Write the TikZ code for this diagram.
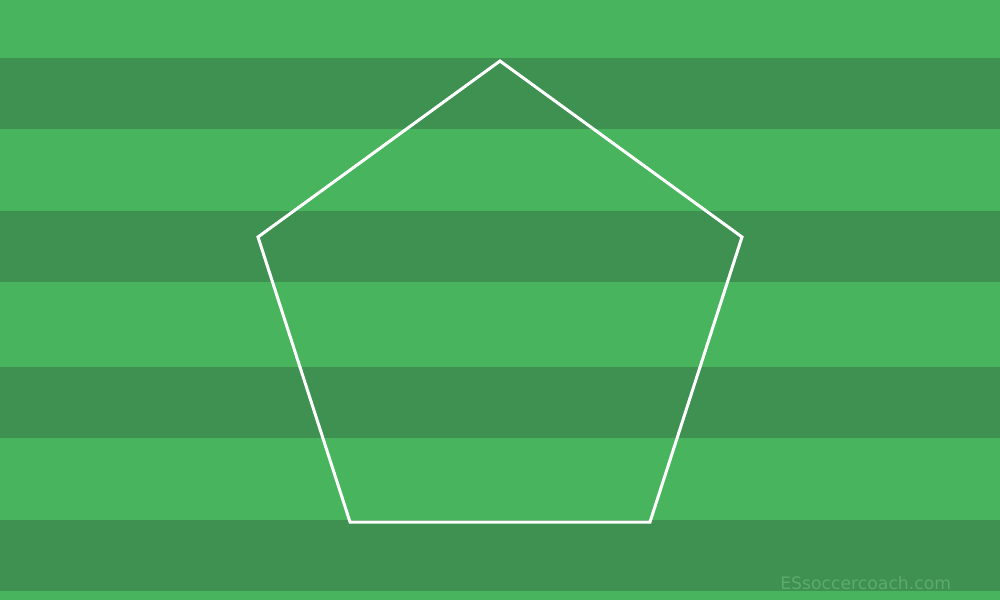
\documentclass[tikz,border=0pt]{standalone}
\usepackage{fontspec}
\newfontfamily\markfont{DejaVu Sans}
\usepackage{tikz}

\definecolor{grasslight}{HTML}{48B55E}
\definecolor{grassdark}{HTML}{3E9151}
\definecolor{marktext}{HTML}{5CAB6C}

\begin{document}
\begin{tikzpicture}[
x=0.2mm,
y=-0.2mm,
stripe/.style={
fill=grassdark
},
fieldline/.style={
draw=white,
line width=0.6mm,
line join=miter
},
watermark/.style={
anchor=base west,
inner sep=0pt,
text=marktext,
font=\markfont\fontsize{9.8}{12}\selectfont
}
]


% Pitch

\fill[grasslight] (0,0) rectangle (1000,600);
\useasboundingbox (0,0) rectangle (1000,600);

\foreach \top/\bottom in {58/129, 211/282, 367/438, 520/591}
{
\fill[stripe] (0,\top) rectangle (1000,\bottom);
}


% Pentagon

\coordinate (apex) at (500,61);
\coordinate (right) at (742,237);
\coordinate (lowright) at (650,522);
\coordinate (lowleft) at (350,522);
\coordinate (left) at (258,237);

\draw[fieldline] (apex) -- (right) -- (lowright) -- (lowleft) -- (left) -- cycle;


% Watermark

\node (mark) [watermark] at (780,589) {ESsoccercoach.com};


\end{tikzpicture}
\end{document}
